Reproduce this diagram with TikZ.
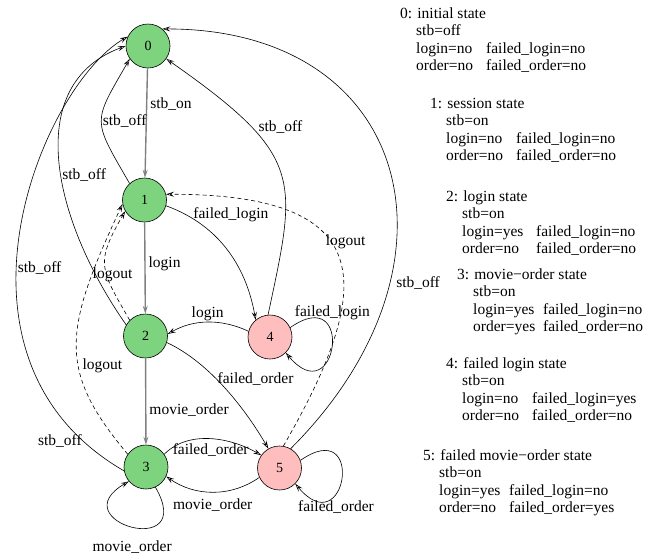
\documentclass[tikz,border=0pt]{standalone}
\usepackage{fontspec}
\setmainfont{Liberation Serif}
\usetikzlibrary{arrows.meta}
\definecolor{stgreen}{RGB}{126,212,126}
\definecolor{stpink}{RGB}{255,190,190}
% one line of variables in the state notes
\newcommand{\vpair}[3][70pt]{\hspace*{16pt}\makebox[#1][l]{#2}#3}

\begin{document}
\begin{tikzpicture}[
  x=1pt, y=1pt, >={Stealth[length=8pt, width=5pt, inset=3pt, open]},
  font=\fontsize{15.5}{17.5}\selectfont,
  st/.style={draw, circle, minimum size=44pt, inner sep=0pt,
             line width=0.6pt, font=\fontsize{14}{16}\selectfont},
  okst/.style={st, fill=stgreen},
  badst/.style={st, fill=stpink},
  tr/.style={->, line width=0.6pt},
  mtr/.style={->, line width=1.4pt, draw=black!50},
  lgt/.style={tr, dash pattern=on 4pt off 3pt},
  lbl/.style={inner sep=1pt},
  note/.style={anchor=base west, inner sep=0pt},
]
\useasboundingbox (0,0) rectangle (661,-555);

% states
\node[okst]  (n0) at (148,-46)    {0};
\node[okst]  (n1) at (144.5,-200) {1};
\node[okst]  (n2) at (145.5,-336) {2};
\node[okst]  (n3) at (146,-467)   {3};
\node[badst] (n4) at (270,-337)   {4};
\node[badst] (n5) at (279.5,-468) {5};

% main path
\draw[mtr] (n0) -- (n1) node[lbl, pos=0.33, anchor=west, xshift=2pt] (t01) {stb\_on};
\draw[mtr] (n1) -- (n2) node[lbl, pos=0.45, anchor=west, xshift=2pt] (t12) {login};
\draw[mtr] (n2) -- (n3) node[lbl, pos=0.6, anchor=west, xshift=2pt] (t23) {movie\_order};

% back to the initial state
\draw[tr] (n1.132) .. controls +(120:75) and +(240:75) .. (n0.215)
  node[lbl, pos=0.5, anchor=west] (t10) {stb\_off};
\draw[tr] (n2.150) .. controls +(125:130) and +(200:110) .. (n0.180)
  node[lbl, pos=0.45, anchor=west] (t20) {stb\_off};
\draw[tr] (n3.190) .. controls +(150:225) and +(210:100) .. (n0.155)
  node[lbl, pos=0.43, anchor=west] (t30a) {stb\_off}
  node[lbl, pos=0.08, anchor=east] (t30b) {stb\_off};
\draw[tr] (n4.95) .. controls +(78:140) and +(325:170) .. (n0.325)
  node[lbl, pos=0.72, anchor=west, xshift=6pt] (t40) {stb\_off};
\draw[tr] (n5.60) .. controls +(45:260) and +(0:250) .. (n0.50)
  node[lbl, pos=0.29, anchor=west, xshift=5pt] (t50) {stb\_off};

% logout
\draw[lgt] (n2.135) .. controls +(120:60) and +(240:60) .. (n1.210)
  node[lbl, pos=0.4, xshift=6pt] (t21) {logout};
\draw[lgt] (n3.145) .. controls +(130:110) and +(245:140) .. (n1.190)
  node[lbl, pos=0.4, anchor=west, xshift=3pt] (t31) {logout};
\draw[lgt] (n5.80) .. controls +(60:190) and +(0:210) .. (n1.15)
  node[lbl, pos=0.57, anchor=west, xshift=-6pt] (t51) {logout};

% login and orders
\draw[tr] (n1.-15) .. controls +(-20:60) and +(100:50) .. (n4.130)
  node[lbl, pos=0.17, anchor=base west] (t14) {failed\_login};
\draw[tr] (n4.165) .. controls +(155:30) and +(30:30) .. (n2.5)
  node[lbl, pos=0.5, anchor=south] (t42) {login};
\draw[tr] (n2.-17) .. controls +(-25:50) and +(120:40) .. (n5.120)
  node[lbl, pos=0.4, anchor=west] (t25) {failed\_order};
\draw[tr] (n3.35) .. controls +(45:35) and +(150:35) .. (n5.145)
  node[lbl, pos=0.5, anchor=north, yshift=-3pt] (t35) {failed\_order};
\draw[tr] (n5.205) .. controls +(215:35) and +(-35:35) .. (n3.-25)
  node[lbl, pos=0.5, anchor=north, yshift=-5pt] (t53) {movie\_order};

% self loops
\draw[tr] (n4.25) .. controls +(35:80) and +(-50:80) .. (n4.-45)
  node[lbl, pos=0.25, anchor=south, xshift=8pt] (t44) {failed\_login};
\draw[tr] (n5.20) .. controls +(35:80) and +(-50:80) .. (n5.-45)
  node[lbl, pos=0.75, anchor=north, xshift=9pt] (t55) {failed\_order};
\draw[tr] (n3.-65) .. controls +(-60:85) and +(210:80) .. (n3.220)
  node[lbl, pos=0.5, anchor=north, yshift=-13pt] (t33) {movie\_order};

% state notes
\node[note] (d0) at (400,-18) {\begin{tabular}[t]{@{}l@{}}
  0: initial state\\
  \hspace*{16pt}stb=off\\
  \vpair{login=no}{failed\_login=no}\\
  \vpair{order=no}{failed\_order=no}
\end{tabular}};
\node[note] (d1) at (430,-108) {\begin{tabular}[t]{@{}l@{}}
  1: session state\\
  \hspace*{16pt}stb=on\\
  \vpair{login=no}{failed\_login=no}\\
  \vpair{order=no}{failed\_order=no}
\end{tabular}};
\node[note] (d2) at (446,-201) {\begin{tabular}[t]{@{}l@{}}
  2: login state\\
  \hspace*{16pt}stb=on\\
  \vpair[74pt]{login=yes}{failed\_login=no}\\
  \vpair[74pt]{order=no}{failed\_order=no}
\end{tabular}};
\node[note] (d3) at (457,-279) {\begin{tabular}[t]{@{}l@{}}
  3: movie−order state\\
  \hspace*{16pt}stb=on\\
  \vpair{login=yes}{failed\_login=no}\\
  \vpair{order=yes}{failed\_order=no}
\end{tabular}};
\node[note] (d4) at (446,-368) {\begin{tabular}[t]{@{}l@{}}
  4: failed login state\\
  \hspace*{16pt}stb=on\\
  \vpair{login=no}{failed\_login=yes}\\
  \vpair{order=no}{failed\_order=no}
\end{tabular}};
\node[note] (d5) at (423,-460) {\begin{tabular}[t]{@{}l@{}}
  5: failed movie−order state\\
  \hspace*{16pt}stb=on\\
  \vpair{login=yes}{failed\_login=no}\\
  \vpair{order=no}{failed\_order=yes}
\end{tabular}};
\end{tikzpicture}
\end{document}
